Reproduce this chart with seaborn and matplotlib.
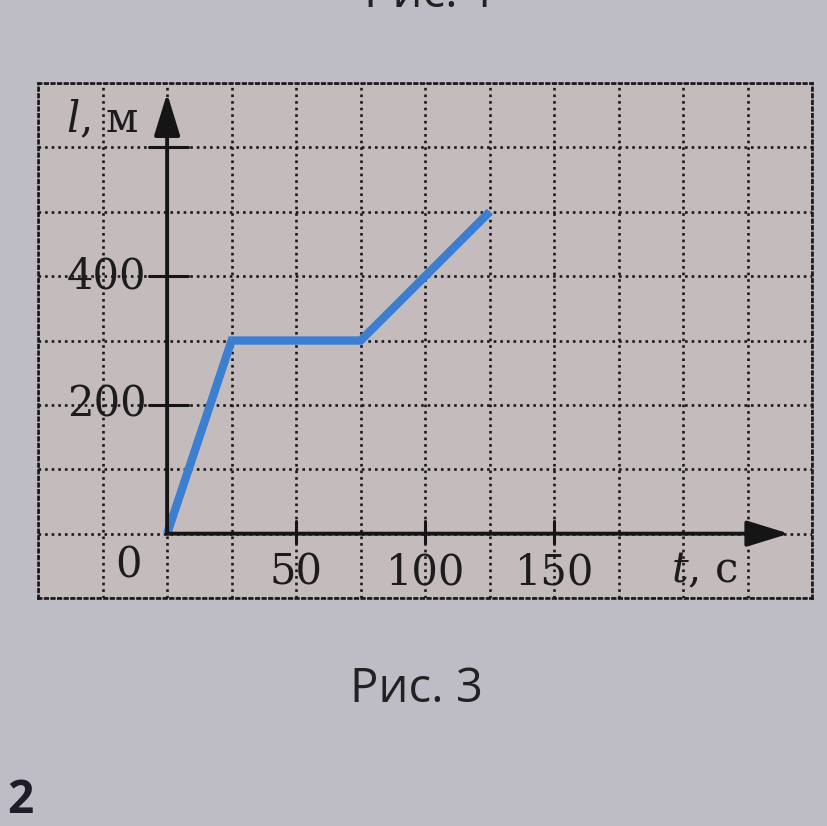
import numpy as np
import pandas as pd
import seaborn as sns
import matplotlib.pyplot as plt

# path-time graph data (t in s, l in m)
t_values = [0, 25, 75, 125]
l_values = [0, 300, 300, 500]
x_tick_values = [50, 100, 150]
y_tick_values = [200, 400, 600]
y_tick_labels = ["200", "400", ""]

page_color = "#bebdc6"
grid_bg = "#c4bcbc"
line_blue = "#3b7fd2"

sns.set_theme(style="white")
plt.rcParams['font.family'] = ['DejaVu Serif', 'DejaVu Sans']
plt.rcParams['mathtext.fontset'] = 'dejavuserif'

fig = plt.figure(figsize=(8.28, 8.26), dpi=100, facecolor=page_color)
ax = fig.add_axes([0.046, 0.276, 0.935, 0.6235])
ax.set_facecolor(grid_bg)

xmin, xmax = -50, 250
ymin, ymax = -100, 700
ax.set_xlim(xmin, xmax)
ax.set_ylim(ymin, ymax)

# dotted grid of the textbook paper
ax.set_xticks(np.arange(xmin, xmax + 1, 25))
ax.set_yticks(np.arange(ymin, ymax + 1, 100))
ax.grid(True, color="#1a1a1a", linestyle=(0, (1, 1.5)), linewidth=1.9)
ax.tick_params(length=0, labelbottom=False, labelleft=False)
for s in ax.spines.values():
    s.set_linestyle((0, (1, 1.5)))
    s.set_linewidth(1.9)
    s.set_color("#1a1a1a")

df = pd.DataFrame({"t": t_values, "l": l_values})
sns.lineplot(data=df, x="t", y="l", color=line_blue, linewidth=6,
             solid_capstyle="butt", solid_joinstyle="miter", ax=ax, zorder=4)

# axes with arrows
arrow_kw = dict(arrowstyle="-|>,head_length=1.3,head_width=0.4",
                color="#151515", lw=2.8, mutation_scale=20, shrinkA=0, shrinkB=0)
ax.annotate("", xy=(241, 0), xytext=(0, 0), arrowprops=arrow_kw, zorder=5)
ax.annotate("", xy=(0, 684), xytext=(0, 0), arrowprops=arrow_kw, zorder=5)

num_kw = dict(fontsize=30, color="#1c1c1c")
for v in x_tick_values:
    ax.plot([v, v], [-14, 20], color="#151515", lw=2.2, zorder=5)
    ax.text(v, -60, str(v), ha="center", va="center", **num_kw)
for v, lab in zip(y_tick_values, y_tick_labels):
    ax.plot([-7, 8], [v, v], color="#151515", lw=2.2, zorder=5)
    if lab:
        ax.text(-8, v, lab, ha="right", va="center", **num_kw)

ax.text(-15, -49, "0", ha="center", va="center", **num_kw)
ax.text(208, -57, r"$t$, с", ha="center", va="center", **num_kw)
ax.text(-25, 642, r"$l$, м", ha="center", va="center", **num_kw)

# captions on the page
fig.text(416 / 828, 1 - 702 / 826, "Рис. 3", ha="center", va="baseline",
         fontsize=34, family=["Open Sans", "DejaVu Sans"], color="#222222")
fig.text(430 / 828, 1 - 7 / 826, "Рис. 1", ha="center", va="baseline",
         fontsize=34, family=["Open Sans", "DejaVu Sans"], color="#222222")
fig.text(33 / 828, 1 - 813 / 826, "2", ha="right", va="baseline",
         fontsize=33, fontweight="bold", family=["Open Sans", "DejaVu Sans"],
         color="#1e1e2a")

fig.savefig("out.png", dpi=100, facecolor=page_color)
